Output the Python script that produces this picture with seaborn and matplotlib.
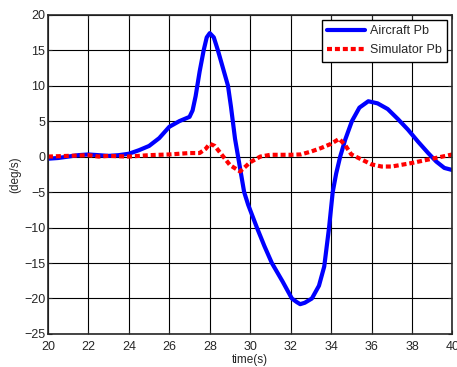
import numpy as np
import pandas as pd
import matplotlib
matplotlib.use("Agg")
import matplotlib.pyplot as plt
import seaborn as sns

# values
t_aircraft = [20, 20.5, 21, 21.5, 22, 22.5, 23, 23.5, 24, 24.5, 25, 25.5, 26, 26.5, 27, 27.15,
              27.3, 27.5, 27.7, 27.85, 28, 28.2, 28.4, 28.65, 28.9, 29.05, 29.25, 29.4, 29.7,
              29.9, 30.33, 30.7, 31.07, 31.6, 32.06, 32.3, 32.47, 32.7, 33.05, 33.4, 33.66,
              33.9, 34.08, 34.25, 34.45, 34.7, 35.03, 35.4, 35.84, 36.3, 36.8, 37.3, 37.8,
              38.3, 38.8, 39.2, 39.6, 40]
aircraft_pb = [-0.3, -0.2, 0.0, 0.2, 0.3, 0.2, 0.1, 0.2, 0.4, 0.9, 1.5, 2.6, 4.2, 5.0, 5.6, 6.5,
               8.5, 12.0, 15.0, 16.8, 17.4, 16.8, 15.0, 12.5, 10.0, 7.0, 2.5, 0.0, -5.0,
               -6.8, -10.0, -12.6, -15.0, -17.6, -20.0, -20.5, -20.8, -20.6, -20.0, -18.2, -15.5,
               -10.0, -5.0, -2.4, 0.0, 2.4, 5.0, 6.9, 7.8, 7.5, 6.7, 5.3, 3.8,
               2.1, 0.5, -0.7, -1.6, -1.9]

t_sim = [20, 21, 22, 22.5, 23, 24, 25, 26, 27, 27.5, 27.8, 28, 28.25, 28.5, 29, 29.5, 30, 30.5,
         31, 32, 32.5, 33, 33.5, 34, 34.4, 34.7, 35, 35.5, 36, 36.5, 37, 38, 39, 40]
simulator_pb = [0.0, 0.1, 0.2, 0.0, 0.1, 0.0, 0.2, 0.3, 0.5, 0.5, 1.1, 1.8, 1.5, 0.6, -1.2, -2.1, -0.8, 0.0,
                0.25, 0.25, 0.3, 0.7, 1.2, 1.8, 2.5, 1.6, 0.3, -0.4, -1.1, -1.4, -1.4, -0.9, -0.3, 0.3]

df_air = pd.DataFrame({"t": t_aircraft, "v": aircraft_pb})
df_sim = pd.DataFrame({"t": t_sim, "v": simulator_pb})

sns.set_style("ticks")
plt.rcParams["font.family"] = ["Liberation Sans", "DejaVu Sans"]

fig, ax = plt.subplots(figsize=(4.57, 3.67), dpi=100)
fig.subplots_adjust(left=0.105, right=0.99, top=0.96, bottom=0.09)

sns.lineplot(data=df_air, x="t", y="v", ax=ax, color="#0000ff", lw=3, label="Aircraft Pb")
sns.lineplot(data=df_sim, x="t", y="v", ax=ax, color="#ff0000", lw=3, ls=(0, (1.2, 0.7)),
             label="Simulator Pb")

ax.set_xlim(20, 40)
ax.set_ylim(-25, 20)
ax.set_xticks(np.arange(20, 41, 2))
ax.set_yticks(np.arange(-25, 21, 5))
ax.grid(True, color="black", lw=0.8)
ax.tick_params(direction="in", labelsize=9, length=3, top=True, right=True)
ax.tick_params(axis="x", pad=5)
ax.tick_params(axis="y", pad=2)
for s in ax.spines.values():
    s.set_visible(True)
    s.set_linewidth(1.2)
ax.set_xlabel("time(s)", fontsize=8.5, labelpad=1)
ax.set_ylabel("(deg/s)", fontsize=8.5, labelpad=2)

leg = ax.legend(loc="upper right", fontsize=9, fancybox=False, framealpha=1,
                edgecolor="black", handlelength=3.0, borderpad=0.45, labelspacing=0.55,
                borderaxespad=0.4, handletextpad=0.4)
leg.get_frame().set_linewidth(1.0)

fig.savefig("out.png", dpi=100)
